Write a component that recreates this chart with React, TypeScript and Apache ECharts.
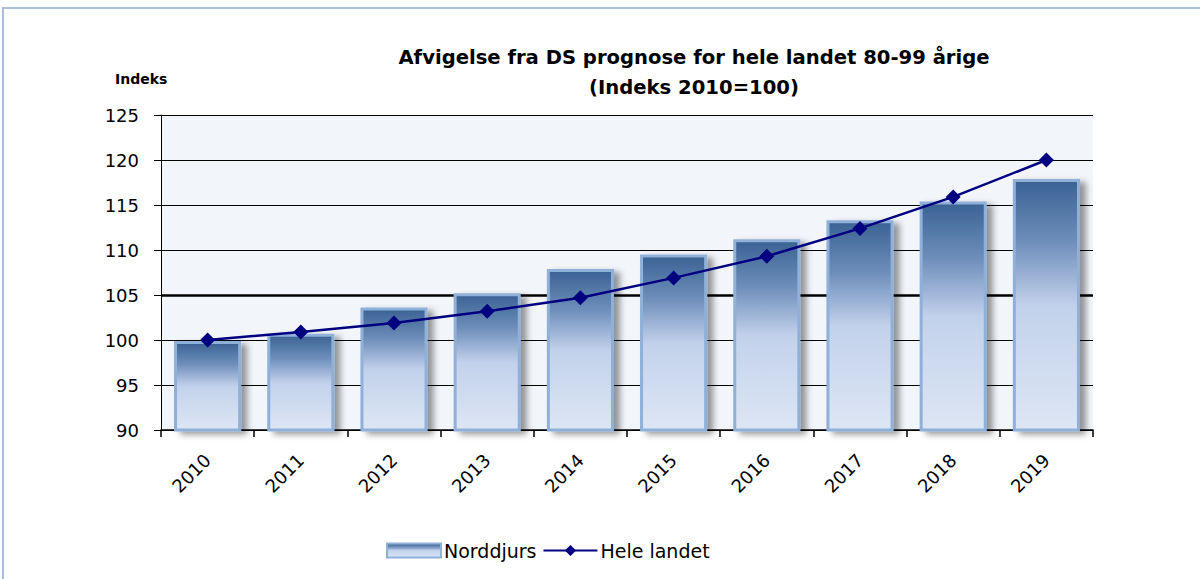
import React, { useEffect, useRef } from "react";
import * as echarts from "echarts";

const categories = ["2010", "2011", "2012", "2013", "2014", "2015", "2016", "2017", "2018", "2019"];
const norddjurs = [99.9, 100.7, 103.6, 105.2, 107.9, 109.5, 111.2, 113.3, 115.4, 117.9];
const heleLandet = [100, 100.9, 101.9, 103.2, 104.7, 106.9, 109.3, 112.4, 115.9, 120];
const yMin = 90;
const yMax = 125;
const yStep = 5;
const titleText = "Afvigelse fra DS prognose for hele landet 80-99 årige\n(Indeks 2010=100)";

const FONT = "DejaVu Sans";

export default function App() {
  const ref = useRef<HTMLDivElement>(null);
  useEffect(() => {
    if (!ref.current) return;
    const chart = echarts.init(ref.current, undefined, { renderer: "svg" });
    const barGradient = new echarts.graphic.LinearGradient(0, 0, 0, 1, [
      { offset: 0, color: "#3a6293" },
      { offset: 0.25, color: "#6f8fbb" },
      { offset: 0.5, color: "#c2d1eb" },
      { offset: 1, color: "#dde6f4" },
    ]);
    chart.setOption({
      animation: false,
      backgroundColor: "#ffffff",
      title: {
        text: titleText,
        left: 689,
        top: 37,
        textAlign: "center",
        textStyle: {
          fontFamily: FONT,
          fontSize: 19.6,
          fontWeight: "bold",
          color: "#000",
          lineHeight: 30,
        },
      },
      graphic: [
        {
          type: "rect",
          shape: { x: 3, y: 8, width: 1300, height: 700 },
          style: { fill: "none", stroke: "#a8bedc", lineWidth: 2 },
          silent: true,
        },
        {
          type: "text",
          left: 115,
          top: 72,
          style: {
            text: "Indeks",
            fontFamily: FONT,
            fontSize: 14,
            fontWeight: "bold",
            fill: "#000",
          },
        },
      ],
      legend: {
        left: 381,
        top: 536,
        itemWidth: 54,
        itemHeight: 14,
        itemGap: 6,
        textStyle: { fontFamily: FONT, fontSize: 19, color: "#000", padding: [0, 0, 0, -2] },
        data: [
          { name: "Norddjurs", icon: "rect" },
          { name: "Hele landet" },
        ],
      },
      grid: {
        left: 161,
        right: 107,
        top: 115,
        bottom: 149,
        show: true,
        backgroundColor: "#f2f5fa",
        borderWidth: 0,
      },
      xAxis: {
        type: "category",
        data: categories,
        boundaryGap: true,
        axisLine: { lineStyle: { color: "#000", width: 1.5 } },
        axisTick: { show: true, length: 7, lineStyle: { color: "#000", width: 1.5 } },
        axisLabel: {
          rotate: 45,
          margin: 27,
          fontFamily: FONT,
          fontSize: 18,
          color: "#000",
        },
      },
      yAxis: {
        type: "value",
        min: yMin,
        max: yMax,
        interval: yStep,
        axisLine: { show: true, lineStyle: { color: "#000", width: 1 } },
        axisTick: { show: true, length: 7, lineStyle: { color: "#000" } },
        axisLabel: { fontFamily: FONT, fontSize: 18, color: "#000", margin: 22 },
        splitLine: { show: true, lineStyle: { color: "#000", width: 1 } },
      },
      series: [
        {
          name: "ref105",
          type: "line",
          data: [],
          z: 1,
          silent: true,
          markLine: {
            z: 1,
            silent: true,
            symbol: "none",
            label: { show: false },
            lineStyle: { color: "#000", width: 2.5, type: "solid" },
            data: [{ yAxis: 105 }],
          },
        },
        {
          name: "Norddjurs",
          type: "bar",
          data: norddjurs,
          barWidth: "72%",
          z: 2,
          itemStyle: {
            color: barGradient,
            borderColor: "#8fb0d8",
            borderWidth: 3,
            shadowColor: "rgba(0,0,0,0.4)",
            shadowBlur: 6,
            shadowOffsetX: 6,
            shadowOffsetY: 3,
          },
        },
        {
          name: "Hele landet",
          type: "line",
          data: heleLandet,
          z: 3,
          symbol: "diamond",
          symbolSize: 15,
          itemStyle: { color: "#000080" },
          lineStyle: { color: "#000080", width: 2.5 },
        },
      ],
    });
    return () => chart.dispose();
  }, []);
  return (
    <div
      ref={ref}
      style={{ position: "fixed", left: 0, top: 0, width: 1200, height: 579 }}
    />
  );
}
